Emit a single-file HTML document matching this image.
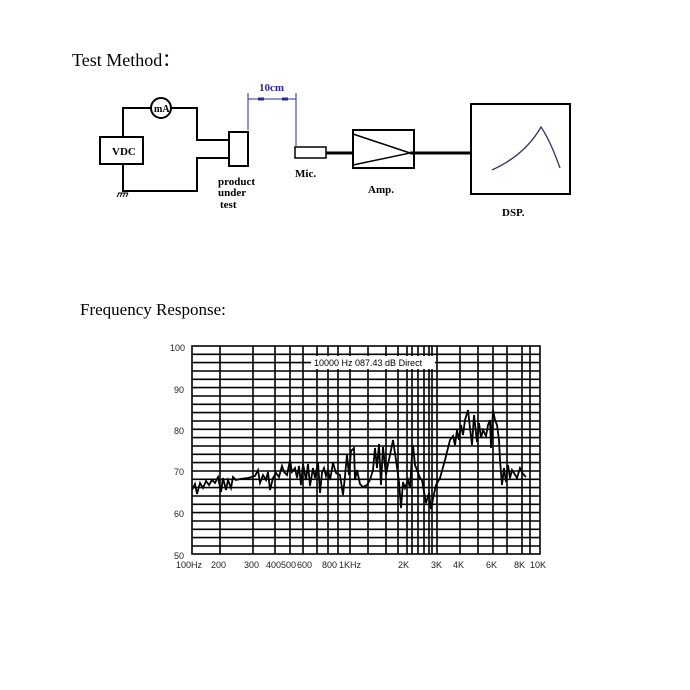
<!DOCTYPE html>
<html><head><style>body{margin:0;background:#fff}svg{display:block}</style></head><body>
<svg width="690" height="690" xmlns="http://www.w3.org/2000/svg">
<rect width="690" height="690" fill="#fff"/>
<text x="72" y="66" font-family="Liberation Serif, serif" font-size="18">Test Method：</text>
<text x="80" y="315" font-family="Liberation Serif, serif" font-size="17">Frequency Response:</text>
<g stroke="#000" fill="none" stroke-width="2">
<circle cx="161" cy="108" r="10" fill="#fff"/>
<rect x="100" y="137" width="43" height="27"/>
<polyline points="123,137 123,108 151,108"/>
<polyline points="171,108 197,108 197,140 229,140"/>
<polyline points="229,158 197,158 197,191 123,191 123,164"/>
<rect x="229" y="132" width="19" height="34"/>
<rect x="295" y="147" width="31" height="11" stroke-width="1.5"/>
<line x1="326" y1="153" x2="353" y2="153" stroke-width="3"/>
<rect x="353" y="130" width="61" height="38"/>
<polyline points="353,134 410,153 353,165" stroke-width="1.5"/>
<line x1="410" y1="153" x2="472" y2="153" stroke-width="3"/>
<rect x="471" y="104" width="99" height="90"/>
</g>
<g stroke="#000" stroke-width="1"><line x1="118" y1="193" x2="128" y2="193"/><line x1="119" y1="193" x2="117" y2="197"/><line x1="122" y1="193" x2="120" y2="197"/><line x1="125" y1="193" x2="123" y2="197"/><line x1="128" y1="193" x2="126" y2="197"/></g>
<path d="M492,170 Q525,155 541,127 Q550,140 560,168" stroke="#336" stroke-width="1.3" fill="none"/>
<g stroke="#2a2a9a" stroke-width="1"><line x1="248" y1="130" x2="248" y2="93"/><line x1="296" y1="146" x2="296" y2="93"/><line x1="248" y1="99" x2="296" y2="99"/></g>
<g fill="#2a2a9a"><rect x="258" y="97.5" width="6" height="3"/><rect x="282" y="97.5" width="6" height="3"/></g>
<text x="259" y="91" font-family="Liberation Serif, serif" font-size="11" font-weight="bold" fill="#2a2a9a">10cm</text>
<g font-family="Liberation Serif, serif" font-size="11" font-weight="bold">
<text x="112" y="155">VDC</text><text x="154" y="112" font-size="10">mA</text>
<text x="218" y="185">product</text><text x="218" y="196">under</text><text x="220" y="208">test</text>
<text x="295" y="177">Mic.</text><text x="368" y="193">Amp.</text><text x="502" y="216">DSP.</text>
</g>
<g stroke="#000" stroke-width="1.6" fill="none" id="grid">
<rect x="192" y="346" width="348" height="208"/>
</g>
<g stroke="#000" stroke-width="1.6">
<line x1="192" y1="354.3" x2="540" y2="354.3"/><line x1="192" y1="362.6" x2="540" y2="362.6"/><line x1="192" y1="371" x2="540" y2="371"/><line x1="192" y1="379.3" x2="540" y2="379.3"/><line x1="192" y1="387.6" x2="540" y2="387.6"/><line x1="192" y1="396" x2="540" y2="396"/><line x1="192" y1="404.3" x2="540" y2="404.3"/><line x1="192" y1="412.6" x2="540" y2="412.6"/><line x1="192" y1="421" x2="540" y2="421"/><line x1="192" y1="429.3" x2="540" y2="429.3"/><line x1="192" y1="437.6" x2="540" y2="437.6"/><line x1="192" y1="446" x2="540" y2="446"/><line x1="192" y1="454.3" x2="540" y2="454.3"/><line x1="192" y1="462.6" x2="540" y2="462.6"/><line x1="192" y1="471" x2="540" y2="471"/><line x1="192" y1="479.3" x2="540" y2="479.3"/><line x1="192" y1="487.6" x2="540" y2="487.6"/><line x1="192" y1="496" x2="540" y2="496"/><line x1="192" y1="504.3" x2="540" y2="504.3"/><line x1="192" y1="512.6" x2="540" y2="512.6"/><line x1="192" y1="521" x2="540" y2="521"/><line x1="192" y1="529.3" x2="540" y2="529.3"/><line x1="192" y1="537.6" x2="540" y2="537.6"/><line x1="192" y1="546" x2="540" y2="546"/>
<line x1="220" y1="346" x2="220" y2="554"/><line x1="253" y1="346" x2="253" y2="554"/><line x1="275" y1="346" x2="275" y2="554"/><line x1="290" y1="346" x2="290" y2="554"/><line x1="303" y1="346" x2="303" y2="554"/><line x1="317" y1="346" x2="317" y2="554"/><line x1="328" y1="346" x2="328" y2="554"/><line x1="338" y1="346" x2="338" y2="554"/><line x1="350" y1="346" x2="350" y2="554"/><line x1="368" y1="346" x2="368" y2="554"/><line x1="386" y1="346" x2="386" y2="554"/><line x1="398" y1="346" x2="398" y2="554"/><line x1="407" y1="346" x2="407" y2="554"/><line x1="412" y1="346" x2="412" y2="554"/><line x1="418" y1="346" x2="418" y2="554"/><line x1="424" y1="346" x2="424" y2="554"/><line x1="429" y1="346" x2="429" y2="554"/><line x1="432" y1="346" x2="432" y2="554"/><line x1="437" y1="346" x2="437" y2="554"/><line x1="460" y1="346" x2="460" y2="554"/><line x1="478" y1="346" x2="478" y2="554"/><line x1="493" y1="346" x2="493" y2="554"/><line x1="507" y1="346" x2="507" y2="554"/><line x1="522" y1="346" x2="522" y2="554"/><line x1="530" y1="346" x2="530" y2="554"/>
</g>
<rect x="311" y="356" width="124" height="13" fill="#fff"/>
<text x="314" y="366" font-family="Liberation Sans, sans-serif" font-size="9">10000 Hz  087.43  dB  Direct</text>
<polyline fill="none" stroke="#000" stroke-width="1.8" points="192,490 195,484 197,494 200,483 203,488 206,481 209,485 212,480 215,483 218,477 221,492 223,478 226,490 228,480 231,488 233,477 236,480 240,479 248,478 255,476 258,470 260,483 263,475 266,480 268,472 270,490 273,478 276,473 279,477 282,466 284,472 287,475 290,460 292,472 295,468 297,478 299,466 301,485 303,464 306,480 308,464 310,486 313,468 315,478 318,462 320,493 322,473 324,468 326,476 328,470 330,480 333,463 336,473 340,475 343,495 345,476 347,455 349,475 351,451 354,448 355,480 357,470 360,484 363,487 367,485 370,480 373,470 375,448 377,468 379,444 381,485 383,447 386,475 388,464 390,455 393,440 396,460 399,482 401,508 403,482 405,488 408,480 410,488 412,455 413,445 415,465 417,470 420,478 422,480 426,503 429,493 431,509 434,494 436,485 440,478 445,460 450,440 453,436 455,445 457,430 459,440 461,425 463,435 465,420 468,410 470,428 472,445 474,415 477,442 479,423 481,438 483,430 486,436 488,425 490,420 491,448 493,410 495,420 497,425 499,440 500,460 502,485 504,468 506,482 508,465 510,478 512,470 514,473 517,478 520,468 523,474 526,477"/>
<g font-family="Liberation Sans, sans-serif" font-size="9" fill="#222">
<text x="170" y="351">100</text><text x="174" y="393">90</text><text x="174" y="434">80</text><text x="174" y="475">70</text><text x="174" y="517">60</text><text x="174" y="559">50</text>
<text x="176" y="568">100Hz</text><text x="211" y="568">200</text><text x="244" y="568">300</text><text x="266" y="568">400</text><text x="281" y="568">500</text><text x="297" y="568">600</text><text x="322" y="568">800</text><text x="339" y="568">1KHz</text><text x="398" y="568">2K</text><text x="431" y="568">3K</text><text x="453" y="568">4K</text><text x="486" y="568">6K</text><text x="514" y="568">8K</text><text x="530" y="568">10K</text>
</g>
</svg>
</body></html>
